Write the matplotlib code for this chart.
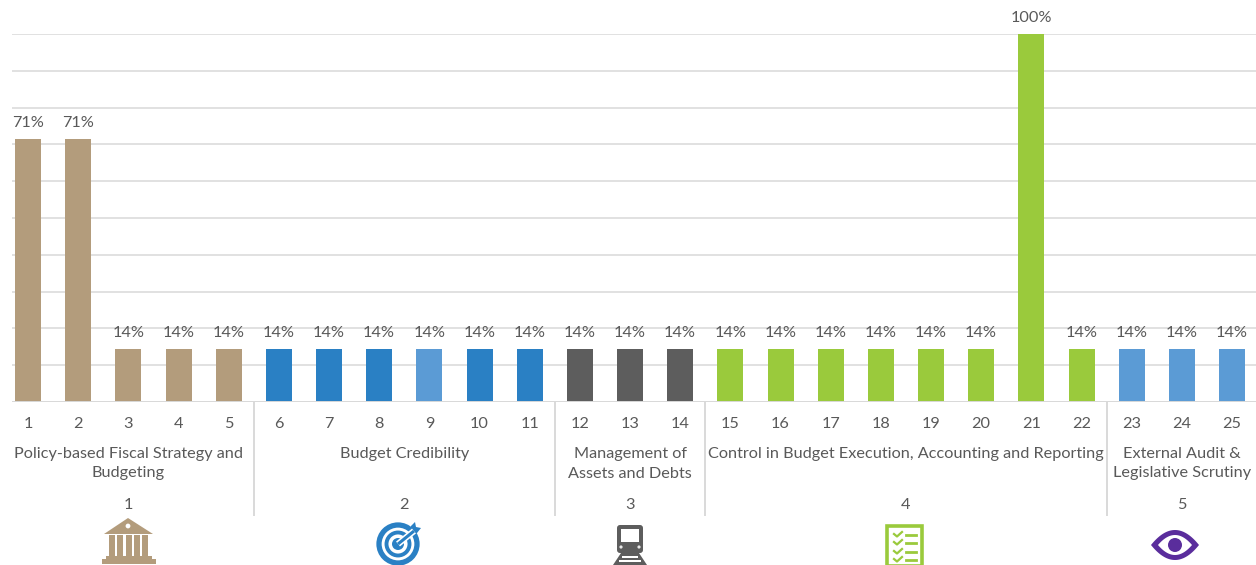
#!/usr/bin/env python3
"""Share of indicators per pillar, bar chart with grouped axis labels and pillar icons."""

import matplotlib
matplotlib.use("Agg")
import matplotlib.pyplot as plt
import matplotlib.patches as mpatches
import numpy as np

plt.rcParams.update({
    "font.family": ["Lato", "DejaVu Sans"],
    "font.size": 11.7,
    "text.color": "#595959",
})

INDICATORS = list(range(1, 26))
VALUES = [71, 71, 14, 14, 14,
          14, 14, 14, 14, 14, 14,
          14, 14, 14,
          14, 14, 14, 14, 14, 14, 100, 14,
          14, 14, 14]
HEIGHTS = [0.714, 0.714, 0.143, 0.143, 0.143,
           0.143, 0.143, 0.143, 0.143, 0.143, 0.143,
           0.143, 0.143, 0.143,
           0.143, 0.143, 0.143, 0.143, 0.143, 0.143, 1.0, 0.143,
           0.143, 0.143, 0.143]
GROUP_SIZES = [5, 6, 3, 8, 3]
GROUP_NAMES = ["Policy-based Fiscal Strategy and\nBudgeting",
               "Budget Credibility",
               "Management of\nAssets and Debts",
               "Control in Budget Execution, Accounting and Reporting",
               "External Audit &\nLegislative Scrutiny"]
GROUP_IDS = ["1", "2", "3", "4", "5"]

TAN, BLUE, LIGHT_BLUE, GRAY, GREEN, PURPLE = ("#b39c7c", "#2a80c4", "#5b9bd5",
                                              "#5d5d5d", "#9aca3c", "#5a2d9c")
BAR_COLORS = ([TAN] * 5 + [BLUE] * 3 + [LIGHT_BLUE] + [BLUE] * 2
              + [GRAY] * 3 + [GREEN] * 8 + [LIGHT_BLUE] * 3)

W, H = 1256, 565
AX_LEFT, AX_TOP, AX_BOTTOM = 12, 34, 402
STEP = (1232 - 28) / 24


def draw_temple(ov, c):
    ov.add_patch(mpatches.Polygon([(104, 534), (128, 518), (153, 534)], color=c, lw=0))
    ov.add_patch(mpatches.Circle((128, 526), 2.4, color="white", lw=0))
    for x in np.linspace(109, 142, 5):
        ov.add_patch(mpatches.Rectangle((x, 535), 6.2, 21, color=c, lw=0))
    ov.add_patch(mpatches.Rectangle((106, 556), 46, 3.5, color=c, lw=0))
    ov.add_patch(mpatches.Rectangle((102, 559), 54, 4.5, color=c, lw=0))


def draw_target(ov, c):
    cx, cy = 398, 544
    ov.add_patch(mpatches.Circle((cx, cy), 19, fill=False, ec=c, lw=3.8))
    ov.add_patch(mpatches.Circle((cx, cy), 11.5, fill=False, ec=c, lw=2.8))
    ov.add_patch(mpatches.Circle((cx, cy), 6, color=c, lw=0))
    ov.plot([cx, 414], [cy, 531], color="white", lw=4.5, solid_capstyle="butt")
    ov.plot([cx, 414], [cy, 531], color=c, lw=2.2, solid_capstyle="butt")
    ov.add_patch(mpatches.Polygon([(410, 534), (411, 526), (415, 522), (416, 527),
                                   (421, 528), (417, 533)], color=c, lw=0))


def draw_train(ov, c):
    ov.add_patch(mpatches.FancyBboxPatch((618, 526), 24, 26, boxstyle="round,pad=1,rounding_size=3",
                                         color=c, lw=0))
    ov.add_patch(mpatches.Rectangle((621, 529), 18, 13, color="white", lw=0))
    ov.add_patch(mpatches.Circle((621, 547), 1.6, color="#e8e8e8", lw=0))
    ov.add_patch(mpatches.Circle((639, 547), 1.6, color="#e8e8e8", lw=0))
    ov.add_patch(mpatches.Polygon([(621, 553), (639, 553), (647, 565), (613, 565)], color=c, lw=0))
    for y, half in [(556, 10), (560, 13)]:
        ov.add_patch(mpatches.Rectangle((630 - half + 2, y), 2 * half - 4, 1.6, color="white", lw=0))


def draw_checklist(ov, c):
    ov.add_patch(mpatches.Rectangle((887, 526), 35, 40, fill=False, ec=c, lw=2.6))
    for y in [535, 543, 552, 560]:
        ov.plot([894, 897, 902], [y - 1, y + 1.5, y - 3], color=c, lw=1.6)
        ov.plot([906, 916], [y, y], color=c, lw=2)


def lens(half_w, half_h, cx=1175, cy=545):
    t = np.linspace(-1, 1, 41)
    xs = cx + half_w * t
    dy = half_h * (1 - t ** 2)
    return np.r_[xs, xs[::-1]], np.r_[cy - dy, (cy + dy)[::-1]]


def draw_eye(ov, c):
    ov.fill(*lens(24, 15), color=c, lw=0)
    ov.fill(*lens(17, 10), color="white", lw=0)
    ov.add_patch(mpatches.Circle((1175, 545), 7, color=c, lw=0))


def main():
    fig = plt.figure(figsize=(W / 100, H / 100), dpi=100, facecolor="white")
    ax = fig.add_axes([AX_LEFT / W, (H - AX_BOTTOM) / H,
                       (W - AX_LEFT) / W, (AX_BOTTOM - AX_TOP) / H])

    x = np.array(INDICATORS)
    ax.bar(x, HEIGHTS, width=26 / STEP, color=BAR_COLORS, zorder=3)
    for xi, h, v in zip(x, HEIGHTS, VALUES):
        ax.annotate(f"{v}%", (xi, h), xytext=(0, 16), textcoords="offset pixels",
                    ha="center", va="center", annotation_clip=False)

    ax.set_xlim(1 - (28 - AX_LEFT) / STEP, 25 + (W - 1232) / STEP)
    ax.set_ylim(0, 1)
    ax.set_yticks(np.arange(0, 1.01, 0.1))
    ax.tick_params(axis="y", left=False, labelleft=False)
    ax.grid(axis="y", color="#dedede", lw=1.3, zorder=0)
    ax.set_axisbelow(True)
    for side in ["top", "right", "left", "bottom"]:
        ax.spines[side].set_visible(False)

    ax.set_xticks(x)
    ax.set_xticklabels([str(i) for i in INDICATORS])
    ax.tick_params(axis="x", length=0, pad=11, colors="#595959")

    # group labels and dividers sit below the axis
    trans = ax.get_xaxis_transform()
    ends = np.cumsum(GROUP_SIZES)
    starts = ends - np.array(GROUP_SIZES)
    for s, e, name, gid in zip(starts, ends, GROUP_NAMES, GROUP_IDS):
        cx = (x[s] + x[e - 1]) / 2
        ax.annotate(name, (cx, 0), xycoords=trans, xytext=(0, -45), textcoords="offset pixels",
                    ha="center", va="top", linespacing=1.5, annotation_clip=False)
        ax.annotate(gid, (cx, 0), xycoords=trans, xytext=(0, -103), textcoords="offset pixels",
                    ha="center", va="center", annotation_clip=False)
    for e in ends[:-1]:
        ax.plot([e + 0.5, e + 0.5], [0, -113 / (AX_BOTTOM - AX_TOP)], transform=trans,
                color="#d9d9d9", lw=1.4, clip_on=False)
    ax.plot([ax.get_xlim()[0], ax.get_xlim()[1]], [0, 0], transform=trans, color="#d9d9d9", lw=1.4, zorder=4)

    # overlay in pixel coordinates for the pillar icons
    ov = fig.add_axes([0, 0, 1, 1], facecolor="none")
    ov.set_xlim(0, W)
    ov.set_ylim(H, 0)
    ov.axis("off")
    draw_temple(ov, TAN)
    draw_target(ov, BLUE)
    draw_train(ov, GRAY)
    draw_checklist(ov, GREEN)
    draw_eye(ov, PURPLE)

    fig.savefig("out.png", dpi=100)
    plt.close(fig)


if __name__ == "__main__":
    main()
